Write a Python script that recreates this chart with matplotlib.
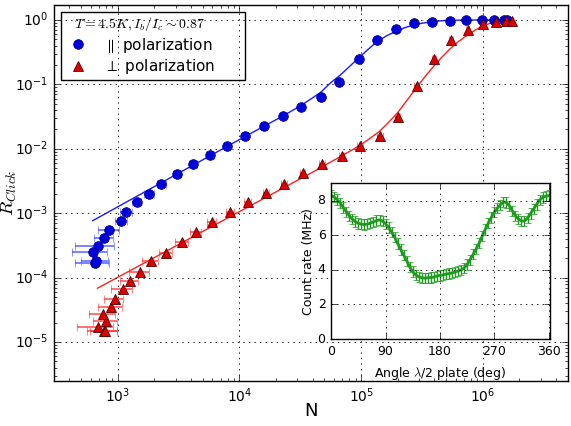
import matplotlib
matplotlib.use("Agg")
import matplotlib.pyplot as plt
from matplotlib.patches import Rectangle
import numpy as np

# parallel polarization: photon number N, click probability, error on N
n_par = [646, 668, 624, 695, 778, 855, 1072, 1170, 1439, 1820, 2291, 3090,
         4169, 5754, 7943, 11220, 15850, 22800, 32200, 46450, 66400, 95700,
         136100, 193600, 273500, 384600, 537000, 724000, 977000, 1.23e6,
         1.48e6, 1.58e6]
r_par = [1.70e-4, 1.80e-4, 2.47e-4, 3.13e-4, 4.08e-4, 5.55e-4, 7.66e-4,
         1.03e-3, 1.48e-3, 2.0e-3, 2.82e-3, 4.07e-3, 5.75e-3, 7.94e-3,
         1.12e-2, 1.58e-2, 2.29e-2, 3.25e-2, 4.48e-2, 6.34e-2, 0.107, 0.252,
         0.497, 0.735, 0.89, 0.944, 0.977, 0.989, 1.0, 1.0, 1.0, 1.0]
nerr_par = [200, 170, 200, 245, 140, 170, 120, 130, 130, 170, 200, 250,
            350, 400, 500, 600, 800, 1000, 1500, 2000, 3000, 4000, 5000,
            7000, 9000, 12000, 15000, 20000, 25000, 30000, 35000, 40000]

# perpendicular polarization
n_perp = [690, 773, 794, 807, 764, 887, 944, 1104, 1253, 1514, 1862, 2472,
          3350, 4416, 5970, 8433, 11700, 16600, 23440, 33110, 47860, 69180,
          97720, 143200, 199500, 286400, 398100, 549500, 750000, 1.0e6,
          1.29e6, 1.55e6, 1.72e6]
r_perp = [1.74e-5, 1.51e-5, 1.48e-5, 2.15e-5, 2.74e-5, 3.47e-5, 4.68e-5,
          6.68e-5, 8.97e-5, 1.24e-4, 1.79e-4, 2.42e-4, 3.54e-4, 5.06e-4,
          7.23e-4, 1.05e-3, 1.48e-3, 2.09e-3, 2.82e-3, 4.17e-3, 5.89e-3,
          7.76e-3, 1.10e-2, 1.58e-2, 3.16e-2, 9.27e-2, 0.245, 0.484, 0.70,
          0.857, 0.931, 0.966, 0.966]
nerr_perp = [225, 210, 200, 180, 180, 200, 165, 215, 210, 280, 280, 300,
             400, 450, 500, 600, 800, 1000, 1300, 1800, 2500, 3500, 5000,
             7000, 9000, 12000, 15000, 20000, 25000, 30000, 35000, 40000,
             45000]

# fit curves
fit_n_par = [624, 1585, 3981, 1e4, 21680, 31620, 46130, 56230, 67300, 79430,
             95060, 112200, 134900, 162200, 195000, 229100, 269200, 316200,
             368100, 426600, 501200, 631000, 794300, 1e6, 1.66e6]
fit_r_par = [7.66e-4, 2.03e-3, 5.32e-3, 1.39e-2, 3.07e-2, 4.62e-2, 7.41e-2,
             0.106, 0.139, 0.186, 0.255, 0.34, 0.46, 0.57, 0.67, 0.76,
             0.835, 0.89, 0.93, 0.96, 0.982, 0.993, 0.998, 1.0, 1.0]
fit_n_perp = [682, 1995, 6310, 19950, 39810, 56230, 70800, 89130, 112200,
              141300, 166000, 199500, 239900, 286400, 338800, 398100, 462400,
              537000, 631000, 734500, 861000, 1e6, 1.135e6, 1.288e6,
              1.479e6, 1.718e6]
fit_r_perp = [6.85e-5, 2.04e-4, 6.61e-4, 2.14e-3, 4.32e-3, 6.24e-3, 7.94e-3,
              1.02e-2, 1.35e-2, 1.86e-2, 2.51e-2, 3.63e-2, 5.75e-2, 9.02e-2,
              0.135, 0.195, 0.266, 0.355, 0.462, 0.569, 0.692, 0.804, 0.881,
              0.933, 0.970, 0.989]

# inset: count rate vs half-wave plate angle
angle = np.arange(0, 365, 5)
rate = [8.28, 8.2, 8.05, 7.85, 7.6, 7.35, 7.12, 6.92, 6.78, 6.68, 6.63, 6.61,
        6.64, 6.70, 6.77, 6.84, 6.88, 6.82, 6.66, 6.45, 6.18, 5.88, 5.52,
        5.18, 4.85, 4.52, 4.16, 3.90, 3.70, 3.60, 3.54, 3.52, 3.54, 3.56,
        3.58, 3.64, 3.68, 3.70, 3.75, 3.78, 3.82, 3.87, 3.93, 4.0, 4.1, 4.3,
        4.58, 4.9, 5.2, 5.55, 5.95, 6.33, 6.7, 7.02, 7.32, 7.55, 7.75, 7.92,
        7.88, 7.7, 7.4, 7.12, 6.92, 6.82, 6.82, 6.98, 7.25, 7.5, 7.78, 8.02,
        8.18, 8.25, 8.28]
rate_err = 0.3

plt.style.use("classic")
plt.rcParams["figure.facecolor"] = "white"
plt.rcParams["savefig.facecolor"] = "white"
plt.rcParams["font.size"] = 10

fig = plt.figure(figsize=(5.71, 4.26), dpi=100)
ax = fig.add_axes([0.0946, 0.106, 0.900, 0.882])
ax.set_xscale("log")
ax.set_yscale("log")

ax.plot(fit_n_par, fit_r_par, "-", color="#1a1aff", lw=1)
ax.plot(fit_n_perp, fit_r_perp, "-", color="#ff2020", lw=1)

ax.errorbar(n_par, r_par, xerr=nerr_par, fmt="none", ecolor="#3a4aff",
            capsize=3, alpha=0.8, elinewidth=1.2)
ax.errorbar(n_perp, r_perp, xerr=nerr_perp, fmt="none", ecolor="#ff3030",
            capsize=3, alpha=0.8, elinewidth=1.2)
ax.plot(n_par, r_par, "o", color="#0000dd", mec="#000088", mew=0.5, ms=7,
        label=r"$\parallel$ polarization")
ax.plot(n_perp, r_perp, "^", color="#dd0000", mec="#550000", mew=0.6, ms=7.5,
        label=r"$\perp$ polarization")

ax.set_xlim(300, 5e6)
ax.set_ylim(2.5e-6, 1.7)
ax.grid(True, which="major", ls=":", color="k", lw=0.6)
ax.set_xlabel("N", fontsize=13)
ax.set_ylabel(r"$R_{Click}$", fontsize=13.5)
ax.xaxis.set_label_coords(0.5, -0.056)
ax.yaxis.set_label_coords(-0.068, 0.5)

leg = ax.legend(loc="upper left", bbox_to_anchor=(0.0136, 0.981),
                borderaxespad=0, numpoints=1, fontsize=11,
                title=r"$T=4.5K, I_b/I_c \sim 0.87$", frameon=False,
                handlelength=1.8, handletextpad=0.8, labelspacing=0.15,
                borderpad=0.2)
leg.get_title().set_fontsize(10)
ax.add_patch(Rectangle((0.0136, 0.80), 0.358, 0.181, transform=ax.transAxes,
                       fill=False, ec="k", lw=1, zorder=5))

# inset
ax2 = fig.add_axes([0.580, 0.204, 0.383, 0.366])
ax2.errorbar(angle, rate, yerr=rate_err, fmt="-", color="#1e9a1e", lw=2,
             elinewidth=1, capsize=2.5)
ax2.set_xlim(0, 362)
ax2.set_ylim(0, 9)
ax2.set_xticks([0, 90, 180, 270, 360])
ax2.set_yticks([0, 2, 4, 6, 8])
ax2.tick_params(labelsize=9)
ax2.grid(True, ls=":", color="k", lw=0.6)
ax2.set_xlabel(r"Angle $\lambda$/2 plate (deg)", fontsize=9)
ax2.set_ylabel("Count rate (MHz)", fontsize=9, labelpad=2)

fig.savefig("out.png", dpi=100)
